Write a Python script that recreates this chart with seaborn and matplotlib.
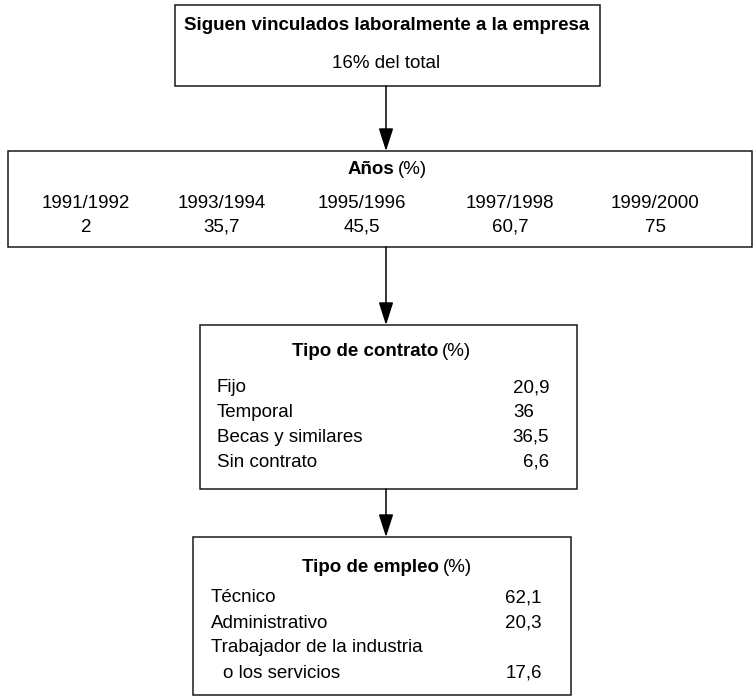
import matplotlib
matplotlib.use('Agg')
import matplotlib.pyplot as plt
from matplotlib.patches import Rectangle
import seaborn as sns

# Data
TOP_TITLE = 'Siguen vinculados laboralmente a la empresa'
TOP_SUB = '16% del total'

years = ['1991/1992', '1993/1994', '1995/1996', '1997/1998', '1999/2000']
years_pct = ['2', '35,7', '45,5', '60,7', '75']

contrato_labels = ['Fijo', 'Temporal', 'Becas y similares', 'Sin contrato']
contrato_pct = ['20,9', '36', '36,5', '6,6']

empleo_labels = ['Técnico', 'Administrativo', 'Trabajador de la industria', 'o los servicios']
empleo_pct = ['62,1', '20,3', '', '17,6']

sns.set_style('white')
plt.rcParams['font.family'] = ['Liberation Sans', 'DejaVu Sans']
plt.rcParams['text.color'] = 'black'

W, H = 754, 696
fig = plt.figure(figsize=(W / 100, H / 100), dpi=100)
ax = fig.add_axes([0, 0, 1, 1])
ax.set_xlim(0, W)
ax.set_ylim(H, 0)
ax.axis('off')

FS = 13.5
LW = 1.1


def box(x0, y0, x1, y1):
    ax.add_patch(Rectangle((x0, y0), x1 - x0, y1 - y0, fill=False,
                           edgecolor='#1a1a1a', linewidth=LW))


def arrow(x, y0, y1):
    ax.annotate('', xy=(x, y1), xytext=(x, y0),
                arrowprops=dict(arrowstyle='-|>,head_length=1.4,head_width=0.45',
                                color='black', lw=LW, shrinkA=0, shrinkB=0))


def title(xsplit, y, bold, rest):
    # bold part ends at xsplit, plain "(%)" starts right after
    ax.text(xsplit - 1, y, bold, fontsize=FS, fontweight='bold', ha='right', va='center')
    ax.text(xsplit + 3, y, rest, fontsize=FS, ha='left', va='center')


CX = 386

# Box 1
box(175, 5, 600, 86)
ax.text(CX + 1, 26, TOP_TITLE, fontsize=FS, fontweight='bold', ha='center', va='center')
ax.text(CX, 63, TOP_SUB, fontsize=FS, ha='center', va='center')
arrow(CX, 86, 151)

# Box 2: years
box(8, 151, 752, 247)
title(395, 169, 'Años', '(%)')
xs = [86, 222, 362, 510, 655]
for x, yr, v in zip(xs, years, years_pct):
    ax.text(x, 203, yr, fontsize=FS, ha='center', va='center')
    ax.text(x, 227, v, fontsize=FS, ha='center', va='center')
arrow(CX, 247, 325)

# Box 3: contrato
box(200, 325, 577, 489)
title(439, 352, 'Tipo de contrato', '(%)')
for i, (lab, v) in enumerate(zip(contrato_labels, contrato_pct)):
    y = 388 + i * 24.7
    ax.text(217, y, lab, fontsize=FS, ha='left', va='center')
    if v == '36':
        ax.text(513, y, v, fontsize=FS, ha='left', va='center')
    else:
        ax.text(549, y, v, fontsize=FS, ha='right', va='center')
arrow(CX, 489, 537)

# Box 4: empleo
box(193, 537, 571, 695)
title(440, 568, 'Tipo de empleo', '(%)')
for i, (lab, v) in enumerate(zip(empleo_labels, empleo_pct)):
    y = 598 + i * 25
    indent = 12 if i == 3 else 0  # continuation line is indented
    ax.text(211 + indent, y, lab, fontsize=FS, ha='left', va='center')
    ax.text(542, y, v, fontsize=FS, ha='right', va='center')

fig.savefig('out.png', dpi=100)
